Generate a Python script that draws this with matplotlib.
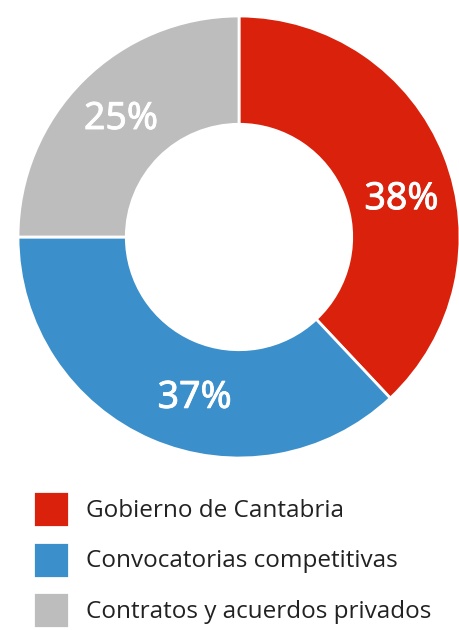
import numpy as np
import matplotlib.pyplot as plt
import matplotlib.patheffects as pe

# datos
categorias = ['Gobierno de Cantabria', 'Convocatorias competitivas', 'Contratos y acuerdos privados']
porcentajes = [38, 37, 25]
colores = ['#d9210b', '#3b8fcb', '#bdbdbd']
etiquetas = ['38%', '37%', '25%']
ajuste_ang = [-8.5, 8, 0]  # desplazamiento de cada etiqueta respecto al centro de la cuña

plt.rcParams['font.family'] = ['Open Sans', 'DejaVu Sans']

fig = plt.figure(figsize=(4.6, 6.3), dpi=100)
ax = fig.add_axes([0, 0, 1, 1])

centro = (239, 393)
radio = 221
ancho = 0.49

wedges, _ = ax.pie(porcentajes, colors=colores, startangle=90, counterclock=False,
                   center=centro, radius=radio,
                   wedgeprops=dict(width=radio * ancho, edgecolor='white', linewidth=2))

ax.set_xlim(0, 460)
ax.set_ylim(0, 630)
ax.set_aspect('equal')
ax.axis('off')

# etiquetas de porcentaje (trazo fino extra para simular seminegrita)
r_lab = radio * 0.755
for w, txt, da in zip(wedges, etiquetas, ajuste_ang):
    ang = np.deg2rad((w.theta1 + w.theta2) / 2 + da)
    x = centro[0] + r_lab * np.cos(ang)
    y = centro[1] + r_lab * np.sin(ang)
    ax.text(x, y, txt, ha='center', va='center', color='white',
            fontsize=27, family=['Noto Sans', 'DejaVu Sans'],
            path_effects=[pe.withStroke(linewidth=0.6, foreground='white')])

# leyenda
fs = 17.5
ax.legend(wedges, categorias, loc='upper left',
          bbox_to_anchor=(33 / 460, 1 - 491 / 630), bbox_transform=fig.transFigure,
          frameon=False, fontsize=fs, handlelength=1.5, handleheight=1.9,
          handletextpad=0.7, labelspacing=0.6, borderpad=0, borderaxespad=0,
          labelcolor='#222222')

fig.savefig('out.png', dpi=100)
